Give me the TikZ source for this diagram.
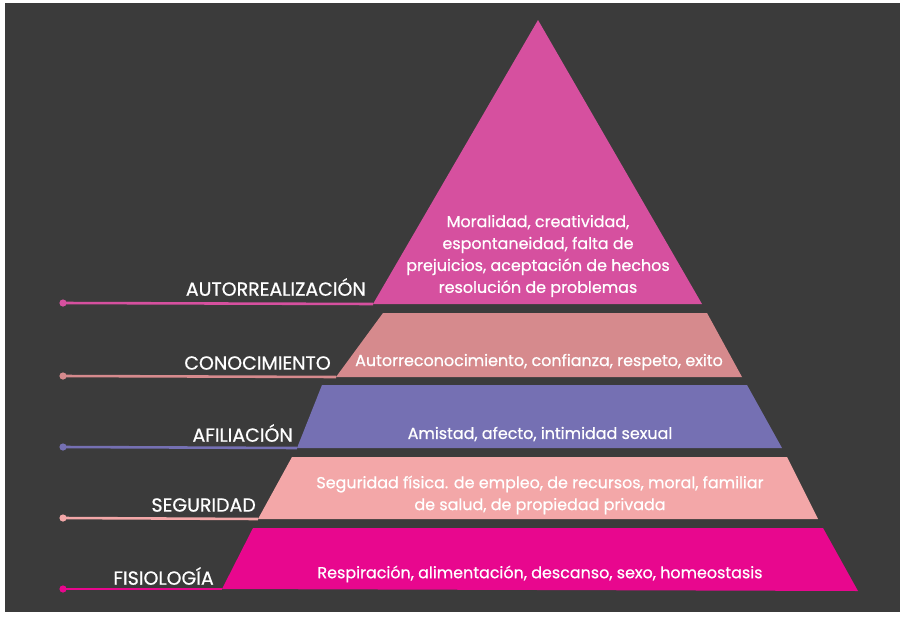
\documentclass[tikz,border=0pt]{standalone}
\usepackage{fontspec}
\setmainfont{Poppins}[FakeBold=0.7]
\definecolor{fondo}{HTML}{3B3B3B}
\definecolor{cumbre}{HTML}{D6509F}
\definecolor{estima}{HTML}{D68A8D}
\definecolor{afilia}{HTML}{7570B3}
\definecolor{segura}{HTML}{F3A7A8}
\definecolor{fisio}{HTML}{E8078E}
\tikzset{
  nivel/.style={text=white, font=\fontsize{16.2}{18}\selectfont, anchor=east, inner sep=0pt},
  lema/.style={text=white, font=\fontsize{13.6}{18.7}\selectfont, align=center, inner sep=0pt},
  guia/.style={line width=2.2pt},
}
\begin{document}
\begin{tikzpicture}[x=0.03cm, y=-0.03cm]
  % frame
  \fill[white] (0,0) rectangle (905,617);
  \fill[fondo] (5,3) rectangle (900,612);
  % tiers (top to bottom)
  \fill[cumbre] (538,20) -- (702,304) -- (373,304) -- cycle;
  \fill[estima] (383,313) -- (707,313) -- (742,377) -- (336,377) -- cycle;
  \fill[afilia] (322,385) -- (747,385) -- (782,448) -- (297,448) -- cycle;
  \fill[segura] (292,457) -- (787,457) -- (818,519) -- (258,519) -- cycle;
  \fill[fisio]  (253,528) -- (823,528) -- (858,591) -- (222,589) -- cycle;
  % corners where the leaders end
  \coordinate (c1) at (373,304);
  \coordinate (c2) at (336,377);
  \coordinate (c3) at (297,448);
  \coordinate (c4) at (258,519);
  \coordinate (c5) at (222,589);
  % leaders
  \foreach \i/\col/\y in {1/cumbre/303, 2/estima/376, 3/afilia/447, 4/segura/518, 5/fisio/589}{
    \coordinate (d\i) at (63,\y);
    \draw[guia, \col] (d\i) -- (c\i);
    \fill[\col] (d\i) circle (3.6);
  }
  % level names
  \node[nivel] (n1) at (366,287) {AUTORREALIZACIÓN};
  \node[nivel] (n2) at (331,363) {CONOCIMIENTO};
  \node[nivel] (n3) at (293,433) {AFILIACIÓN};
  \node[nivel] (n4) at (256,505) {SEGURIDAD};
  \node[nivel] (n5) at (214,576) {FISIOLOGÍA};
  % contents
  \node[lema] (t1) at (538,256) {Moralidad, creatividad,\\espontaneidad, falta de\\prejuicios, aceptación de hechos\\resolución de problemas};
  \node[lema] (t2) at (539,362) {Autorreconocimiento, confianza, respeto, exito};
  \node[lema] (t3) at (540,434) {Amistad, afecto, intimidad sexual};
  \node[lema] (t4) at (540,495) {Seguridad física. de empleo, de recursos, moral, familiar\\de salud, de propiedad privada};
  \node[lema] (t5) at (540,574) {Respiración, alimentación, descanso, sexo, homeostasis};
\end{tikzpicture}
\end{document}
